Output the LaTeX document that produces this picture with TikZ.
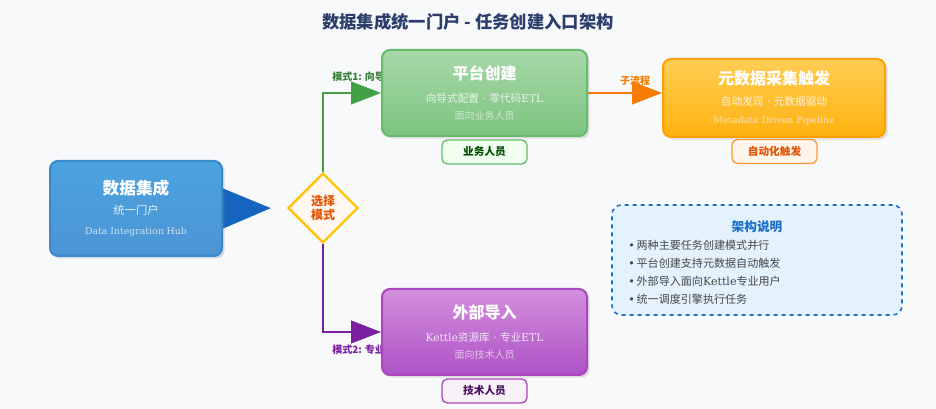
\documentclass[tikz,border=0pt]{standalone}
\usepackage{fontspec}
\setmainfont{Noto Sans CJK SC}
\newfontfamily\serifen{DejaVu Serif}
\usepackage{xcolor}
\usepackage{tikz}
\usetikzlibrary{arrows.meta,shapes.geometric,shadows,backgrounds}
\definecolor{pagebg}{HTML}{F8F9FB}
\definecolor{titlenavy}{HTML}{2C3E6B}
\definecolor{hubblue}{HTML}{4AA3DF}
\definecolor{hubdark}{HTML}{3A88CF}
\definecolor{hubarrow}{HTML}{1565C0}
\definecolor{wizgreen}{HTML}{43A047}
\definecolor{wiztop}{HTML}{A8D8A9}
\definecolor{wizbot}{HTML}{7CC47F}
\definecolor{wizline}{HTML}{66BB6A}
\definecolor{metaorange}{HTML}{F57C00}
\definecolor{metatop}{HTML}{FFCD55}
\definecolor{metabot}{HTML}{FFB20F}
\definecolor{metaline}{HTML}{FFA000}
\definecolor{extpurple}{HTML}{7B1FA2}
\definecolor{exttop}{HTML}{D38FDD}
\definecolor{extbot}{HTML}{AE52C6}
\definecolor{extline}{HTML}{AB47BC}
\definecolor{pickgold}{HTML}{FFC107}
\definecolor{pickred}{HTML}{E65100}
\definecolor{notesblue}{HTML}{1E6FC8}
\definecolor{notesfill}{HTML}{E3F2FD}
\newcommand{\mdot}{{\serifen\ ·\ }}
\newcommand{\bul}{{\serifen •}\,}

\begin{document}
\begin{tikzpicture}[x=0.75pt,y=-0.75pt,
    mainbox/.style={rectangle, rounded corners=6pt, line width=1.5pt, align=center,
      text=white, drop shadow={opacity=0.22, shadow xshift=2pt, shadow yshift=-2pt}},
    tagbox/.style={rectangle, rounded corners=4pt, line width=1pt, minimum width=63.75pt,
      minimum height=18pt, font=\fontsize{8}{10}\selectfont\bfseries},
    flow/.style={line width=1.6pt, -{Triangle[length=22.5pt, width=17pt]}},
    flowlbl/.style={font=\fontsize{7.5}{9}\selectfont\bfseries, inner sep=0pt},
    bigtxt/.style={font=\fontsize{12}{14}\selectfont\bfseries}]

  % title
  \node (title) at (468,22) {\fontsize{13}{16}\selectfont\bfseries\color{titlenavy}
    数据集成统一门户 - 任务创建入口架构};

  % boxes
  \node[mainbox, draw=hubdark, top color=hubblue, bottom color=hubdark!90,
        minimum width=129pt, minimum height=71.25pt] (hub) at (136,208.5) {
    {\fontsize{12.5}{14}\selectfont\bfseries 数据集成}\\[3pt]
    {\fontsize{8.5}{10}\selectfont\color{white!85!hubblue} 统一门户}\\[3pt]
    {\serifen\fontsize{7}{9}\selectfont\color{white!70!hubblue} Data Integration Hub}};

  \node[diamond, aspect=1, draw=pickgold, line width=1.8pt, fill=orange!6,
        minimum width=52.5pt, minimum height=52.5pt, inner sep=0pt, align=center,
        font=\fontsize{9}{11}\selectfont\bfseries, text=pickred] (pick) at (323,208) {选择\\模式};

  \node[mainbox, draw=wizline, top color=wiztop, bottom color=wizbot,
        minimum width=153.75pt, minimum height=64.5pt] (wizard) at (484.5,93) {
    {\fontsize{12}{14}\selectfont\bfseries 平台创建}\\[5pt]
    {\fontsize{8}{10}\selectfont\color{white!88!wizgreen} 向导式配置\mdot 零代码{\serifen ETL}}\\[1pt]
    {\fontsize{7.5}{9}\selectfont\color{white!75!wizgreen} 面向业务人员}};

  \node[mainbox, draw=metaline, top color=metatop, bottom color=metabot,
        minimum width=166.5pt, minimum height=58.5pt] (meta) at (774,98) {
    {\fontsize{12}{14}\selectfont\bfseries 元数据采集触发}\\[4pt]
    {\fontsize{8}{10}\selectfont\color{white!88!metaorange} 自动发现\mdot 元数据驱动}\\[1pt]
    {\serifen\fontsize{7}{9}\selectfont\color{white!75!metaorange} Metadata Driven Pipeline}};

  \node[mainbox, draw=extline, top color=exttop, bottom color=extbot,
        minimum width=153.75pt, minimum height=64.5pt] (import) at (484.5,332) {
    {\fontsize{12}{14}\selectfont\bfseries 外部导入}\\[5pt]
    {\fontsize{8}{10}\selectfont\color{white!88!extpurple} {\serifen Kettle}资源库\mdot 专业{\serifen ETL}}\\[1pt]
    {\fontsize{7.5}{9}\selectfont\color{white!75!extpurple} 面向技术人员}};

  % tags
  \node[tagbox, draw=wizline, fill=green!6, text=green!30!black] (bizuser) at (484.5,152) {业务人员};
  \node[tagbox, draw=orange!80, fill=orange!8, text=pickred] (autotag) at (774.5,151.5) {自动化触发};
  \node[tagbox, draw=extline, fill=violet!6, text=extpurple!60!black] (techuser) at (484.5,391) {技术人员};

  % notes
  \node[rectangle, rounded corners=7pt, draw=notesblue, dashed, line width=1.2pt, fill=notesfill,
        minimum width=217.5pt, minimum height=82.5pt] (notes) at (757,260) {};
  \node[font=\fontsize{9.5}{11}\selectfont\bfseries, text=notesblue] (notestitle) at (757,227) {架构说明};
  \node[anchor=north west, align=left, inner sep=0pt, text=black!72,
        font=\fontsize{8.3}{13.5}\selectfont] (noteslist) at (628,240) {
    \bul 两种主要任务创建模式并行\\
    \bul 平台创建支持元数据自动触发\\
    \bul 外部导入面向{\serifen Kettle}专业用户\\
    \bul 统一调度引擎执行任务};

  % connectors
  \begin{scope}[on background layer]
    \fill[pagebg] (0,0) rectangle (936,409);
    \node[flowlbl, anchor=west, text=wizgreen!80!black] (lblwiz) at (332,77) {模式1: 向导式};
    \node[flowlbl, anchor=west, text=extpurple] (lblimp) at (332,350) {模式2: 专业导入};
    \node[flowlbl, text=metaorange] (lblsub) at (635,81) {子流程};
    \draw[hubarrow, line width=2pt, -{Triangle[length=37.5pt, width=31pt]}, shorten >=12pt]
      (hub.east) -- (pick.west);
    \draw[flow, wizgreen] (pick.north) |- (wizard.west);
    \draw[flow, extpurple] (pick.south) |- (import.west);
    \draw[flow, metaorange] (wizard.east) -- (wizard.east -| meta.west);
  \end{scope}
  \useasboundingbox (0,0) rectangle (936,409);
\end{tikzpicture}
\end{document}
